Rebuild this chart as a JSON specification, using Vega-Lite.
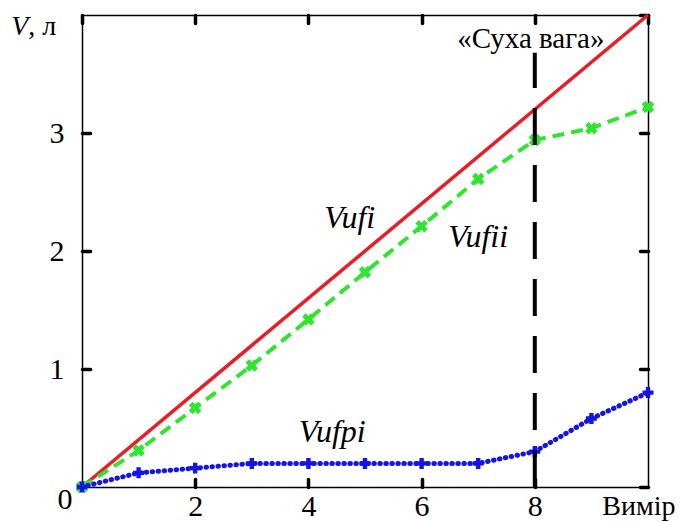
{
  "$schema": "https://vega.github.io/schema/vega-lite/v6.json",
  "width": 566,
  "height": 472,
  "autosize": {"type": "none"},
  "padding": {"left": 82, "top": 15, "right": 32, "bottom": 35},
  "background": "white",
  "config": {"view": {"stroke": null}, "font": "Liberation Serif"},
  "datasets": {
    "series": [
      {"x": 0, "y": 0, "s": "Vufi"},
      {"x": 10, "y": 4, "s": "Vufi"},
      {"x": 0, "y": 0, "s": "Vufii"},
      {"x": 1, "y": 0.31, "s": "Vufii"},
      {"x": 2, "y": 0.67, "s": "Vufii"},
      {"x": 3, "y": 1.03, "s": "Vufii"},
      {"x": 4, "y": 1.42, "s": "Vufii"},
      {"x": 5, "y": 1.82, "s": "Vufii"},
      {"x": 6, "y": 2.21, "s": "Vufii"},
      {"x": 7, "y": 2.61, "s": "Vufii"},
      {"x": 8, "y": 2.94, "s": "Vufii"},
      {"x": 9, "y": 3.04, "s": "Vufii"},
      {"x": 10, "y": 3.22, "s": "Vufii"},
      {"x": 0, "y": 0, "s": "Vufpi"},
      {"x": 1, "y": 0.12, "s": "Vufpi"},
      {"x": 2, "y": 0.16, "s": "Vufpi"},
      {"x": 3, "y": 0.2, "s": "Vufpi"},
      {"x": 4, "y": 0.2, "s": "Vufpi"},
      {"x": 5, "y": 0.2, "s": "Vufpi"},
      {"x": 6, "y": 0.2, "s": "Vufpi"},
      {"x": 7, "y": 0.2, "s": "Vufpi"},
      {"x": 8, "y": 0.3, "s": "Vufpi"},
      {"x": 9, "y": 0.58, "s": "Vufpi"},
      {"x": 10, "y": 0.8, "s": "Vufpi"}
    ],
    "labels": [
      {"x": 4.73, "y": 2.28, "t": "Vufi"},
      {"x": 7.0, "y": 2.12, "t": "Vufii"},
      {"x": 4.42, "y": 0.47, "t": "Vufpi"}
    ],
    "plain": [
      {"x": 7.93, "y": 3.8, "t": "«Суха вага»", "size": 29},
      {"x": 9.84, "y": -0.17, "t": "Вимір", "size": 28},
      {"x": -0.3, "y": -0.11, "t": "0", "size": 30}
    ],
    "marker": [{"x": 8, "y": 0, "y2": 3.68}]
  },
  "resolve": {"axis": {"x": "independent", "y": "independent"}},
  "layer": [
    {
      "data": {"name": "series"},
      "transform": [{"filter": "datum.s === 'Vufi'"}],
      "mark": {"type": "line", "color": "#ec1c24", "strokeWidth": 3.5, "clip": false},
      "encoding": {
        "x": {"field": "x", "type": "quantitative", "scale": {"domain": [0, 10], "nice": false, "zero": false},
          "axis": {"orient": "bottom", "title": null, "values": [2, 4, 6, 8], "grid": false,
            "domainColor": "black", "domainWidth": 1.5, "tickColor": "black", "tickWidth": 3.5, "tickSize": -8, "tickCap": "round",
            "labelFont": "Liberation Serif", "labelFontSize": 30, "labelColor": "black", "labelPadding": 12, "labelFlush": false}},
        "y": {"field": "y", "type": "quantitative", "scale": {"domain": [0, 4], "nice": false, "zero": false},
          "axis": {"orient": "left", "title": null, "values": [1, 2, 3], "grid": false,
            "domainColor": "black", "domainWidth": 1.5, "tickColor": "black", "tickWidth": 3.5, "tickSize": -8, "tickCap": "round",
            "labelFont": "Liberation Serif", "labelFontSize": 30, "labelColor": "black", "labelPadding": 26, "labelFlush": false}}
      }
    },
    {
      "data": {"name": "series"},
      "transform": [{"filter": "datum.s === 'Vufii'"}],
      "mark": {"type": "line", "color": "#2fe52f", "strokeWidth": 4, "strokeDash": [12, 7], "clip": false},
      "encoding": {
        "x": {"field": "x", "type": "quantitative", "scale": {"domain": [0, 10], "nice": false, "zero": false},
          "axis": {"orient": "top", "title": null, "values": [0, 2, 4, 6, 8, 10], "grid": false, "labels": false,
            "domainColor": "black", "domainWidth": 1.5, "tickColor": "black", "tickWidth": 3.5, "tickSize": -8, "tickCap": "round"}},
        "y": {"field": "y", "type": "quantitative", "scale": {"domain": [0, 4], "nice": false, "zero": false},
          "axis": {"orient": "right", "title": null, "values": [0, 1, 2, 3, 4], "grid": false, "labels": false,
            "domainColor": "black", "domainWidth": 1.5, "tickColor": "black", "tickWidth": 3.5, "tickSize": -8, "tickCap": "round"}}
      }
    },
    {
      "data": {"name": "series"},
      "transform": [{"filter": "datum.s === 'Vufii'"}],
      "mark": {"type": "point", "shape": "cross", "angle": 45, "filled": true, "color": "#2fe52f", "size": 160, "opacity": 1, "clip": false},
      "encoding": {
        "x": {"field": "x", "type": "quantitative", "axis": null},
        "y": {"field": "y", "type": "quantitative", "axis": null}
      }
    },
    {
      "data": {"name": "series"},
      "transform": [{"filter": "datum.s === 'Vufpi'"}],
      "mark": {"type": "line", "color": "#1414e6", "strokeWidth": 5, "strokeDash": [0.5, 5.5], "strokeCap": "round", "clip": false},
      "encoding": {
        "x": {"field": "x", "type": "quantitative", "axis": null},
        "y": {"field": "y", "type": "quantitative", "axis": null}
      }
    },
    {
      "data": {"name": "series"},
      "transform": [{"filter": "datum.s === 'Vufpi'"}],
      "mark": {"type": "point", "shape": "cross", "filled": true, "color": "#1414e6", "size": 120, "opacity": 1, "clip": false},
      "encoding": {
        "x": {"field": "x", "type": "quantitative", "axis": null},
        "y": {"field": "y", "type": "quantitative", "axis": null}
      }
    },
    {
      "data": {"name": "marker"},
      "mark": {"type": "rule", "color": "black", "strokeWidth": 4, "strokeDash": [37, 20]},
      "encoding": {
        "x": {"field": "x", "type": "quantitative", "axis": null},
        "y": {"field": "y", "type": "quantitative", "axis": null},
        "y2": {"field": "y2"}
      }
    },
    {
      "data": {"name": "labels"},
      "mark": {"type": "text", "font": "Liberation Serif", "fontStyle": "italic", "fontSize": 32, "color": "black", "align": "center", "baseline": "middle"},
      "encoding": {
        "x": {"field": "x", "type": "quantitative", "axis": null},
        "y": {"field": "y", "type": "quantitative", "axis": null},
        "text": {"field": "t"}
      }
    },
    {
      "data": {"name": "plain"},
      "mark": {"type": "text", "font": "Liberation Serif", "color": "black", "align": "center", "baseline": "middle", "clip": false},
      "encoding": {
        "x": {"field": "x", "type": "quantitative", "axis": null},
        "y": {"field": "y", "type": "quantitative", "axis": null},
        "text": {"field": "t"},
        "size": {"field": "size", "type": "quantitative", "scale": null, "legend": null}
      }
    },
    {
      "data": {"values": [{"x": -1.25, "y": 3.9, "t": "V"}]},
      "mark": {"type": "text", "font": "Liberation Serif", "fontStyle": "italic", "fontSize": 28, "color": "black", "align": "left", "baseline": "middle"},
      "encoding": {
        "x": {"field": "x", "type": "quantitative", "axis": null},
        "y": {"field": "y", "type": "quantitative", "axis": null},
        "text": {"field": "t"}
      }
    },
    {
      "data": {"values": [{"x": -0.95, "y": 3.9, "t": ", л"}]},
      "mark": {"type": "text", "font": "Liberation Serif", "fontSize": 28, "color": "black", "align": "left", "baseline": "middle"},
      "encoding": {
        "x": {"field": "x", "type": "quantitative", "axis": null},
        "y": {"field": "y", "type": "quantitative", "axis": null},
        "text": {"field": "t"}
      }
    }
  ]
}
